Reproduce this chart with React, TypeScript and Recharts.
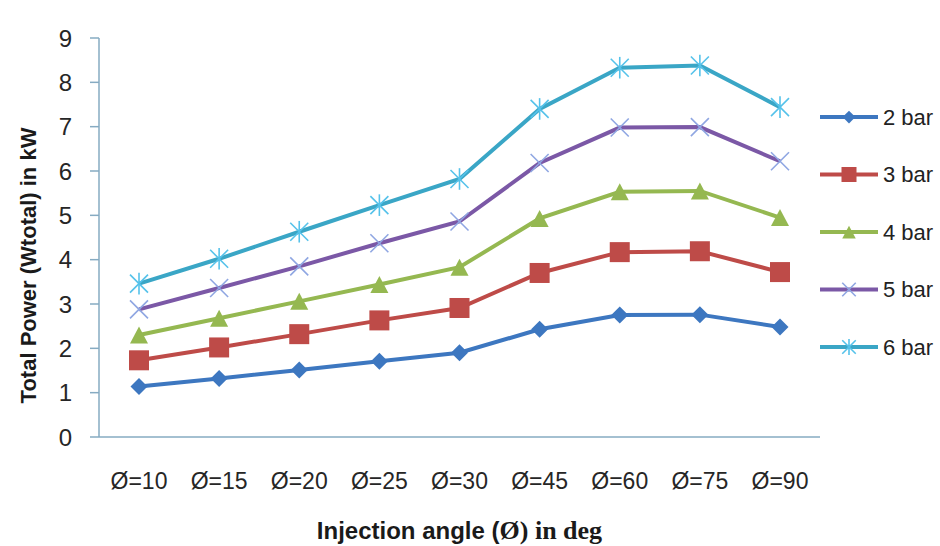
import React from "react"
import { CartesianGrid, Line, LineChart, XAxis, YAxis } from "recharts"

// Injection angle categories
const angles = ["Ø=10", "Ø=15", "Ø=20", "Ø=25", "Ø=30", "Ø=45", "Ø=60", "Ø=75", "Ø=90"]

// Total power in kW per injection pressure
const bar2 = [1.14, 1.32, 1.51, 1.71, 1.9, 2.43, 2.75, 2.76, 2.48]
const bar3 = [1.73, 2.02, 2.32, 2.63, 2.91, 3.7, 4.17, 4.19, 3.72]
const bar4 = [2.3, 2.68, 3.06, 3.44, 3.83, 4.93, 5.53, 5.55, 4.95]
const bar5 = [2.88, 3.36, 3.85, 4.37, 4.86, 6.18, 6.98, 6.99, 6.22]
const bar6 = [3.46, 4.02, 4.63, 5.23, 5.82, 7.4, 8.33, 8.38, 7.44]

const yTicks = [0, 1, 2, 3, 4, 5, 6, 7, 8, 9]

type MarkerKind = "diamond" | "square" | "triangle" | "cross" | "star"

const series: { key: string; name: string; values: number[]; color: string; marker: MarkerKind; markerColor: string }[] = [
  { key: "b2", name: "2 bar", values: bar2, color: "#3d77c0", marker: "diamond", markerColor: "#3d77c0" },
  { key: "b3", name: "3 bar", values: bar3, color: "#be4b48", marker: "square", markerColor: "#be4b48" },
  { key: "b4", name: "4 bar", values: bar4, color: "#95b851", marker: "triangle", markerColor: "#95b851" },
  { key: "b5", name: "5 bar", values: bar5, color: "#7b58a6", marker: "cross", markerColor: "#8fa6e2" },
  { key: "b6", name: "6 bar", values: bar6, color: "#3aa6c6", marker: "star", markerColor: "#55c2ea" },
]

const data = angles.map((angle, i) => {
  const row: Record<string, string | number> = { angle }
  series.forEach((s) => {
    row[s.key] = s.values[i]
  })
  return row
})

const SANS = "'Liberation Sans', Arial, sans-serif"
const SERIF = "'Liberation Serif', 'Times New Roman', serif"
const AXIS = "#86abc2"

function Marker({ kind, cx, cy, color, scale = 1 }: { kind: MarkerKind; cx: number; cy: number; color: string; scale?: number }) {
  if (kind === "diamond") {
    const r = 8.5 * scale
    return <polygon points={`${cx},${cy - r} ${cx + r},${cy} ${cx},${cy + r} ${cx - r},${cy}`} fill={color} />
  }
  if (kind === "square") {
    const h = 10 * scale
    return <rect x={cx - h} y={cy - h} width={h * 2} height={h * 2} fill={color} />
  }
  if (kind === "triangle") {
    const w = 9 * scale
    const h = 8.5 * scale
    return <polygon points={`${cx},${cy - h} ${cx + w},${cy + h} ${cx - w},${cy + h}`} fill={color} />
  }
  const r = 9 * scale
  return (
    <g stroke={color} strokeWidth={1.6}>
      <line x1={cx - r} y1={cy - r} x2={cx + r} y2={cy + r} />
      <line x1={cx - r} y1={cy + r} x2={cx + r} y2={cy - r} />
      {kind === "star" && <line x1={cx} y1={cy - r * 1.2} x2={cx} y2={cy + r * 1.2} />}
    </g>
  )
}

function makeDot(kind: MarkerKind, color: string) {
  return (props: any) => {
    const { cx, cy, index } = props
    if (cx == null || cy == null) return <g key={index} />
    return <Marker key={index} kind={kind} cx={cx} cy={cy} color={color} />
  }
}

function ChartLegend() {
  return (
    <svg width={130} height={290} style={{ position: "absolute", left: 812, top: 88 }}>
      {series.map((s, i) => {
        const y = 29 + i * 57.5
        return (
          <g key={s.key}>
            <line x1={8} x2={66} y1={y} y2={y} stroke={s.color} strokeWidth={4} />
            <Marker kind={s.marker} cx={37} cy={y} color={s.markerColor} scale={0.75} />
            <text x={71} y={y} dominantBaseline="central" fontFamily={SANS} fontSize={22} fill="#222">
              {s.name}
            </text>
          </g>
        )
      })}
    </svg>
  )
}

export default function App() {
  return (
    <div style={{ position: "absolute", left: 0, top: 0, width: 940, height: 546, background: "#fff" }}>
      <LineChart width={940} height={546} data={data} margin={{ top: 38, right: 120, bottom: 0, left: 0 }}>
        <CartesianGrid vertical={false} horizontal={false} />
        <XAxis
          dataKey="angle"
          height={109}
          padding={{ left: 40, right: 40 }}
          axisLine={{ stroke: AXIS, strokeWidth: 1.5 }}
          tickLine={false}
          tickSize={0}
          tickMargin={36}
          tick={{ fontFamily: SANS, fontSize: 23, fill: "#262626" }}
          interval={0}
          label={{
            content: (p: any) => {
              const vb = p.viewBox
              return (
                <text x={vb.x + vb.width / 2} y={539} textAnchor="middle" fill="#1a1a1a" fontWeight="bold">
                  <tspan fontFamily={SANS} fontSize={24}>Injection angle (</tspan>
                  <tspan fontFamily={SERIF} fontSize={26}>Ø) in deg</tspan>
                </text>
              )
            },
          }}
        />
        <YAxis
          width={99}
          domain={[0, 9]}
          ticks={yTicks}
          interval={0}
          axisLine={{ stroke: AXIS, strokeWidth: 1.5 }}
          tickLine={{ stroke: AXIS, strokeWidth: 1.5 }}
          tickSize={9}
          tickMargin={18}
          tick={{ fontFamily: SANS, fontSize: 24, fill: "#262626" }}
          label={{
            content: (p: any) => {
              const vb = p.viewBox
              const cy = vb.y + vb.height / 2 + 28
              return (
                <text
                  x={28}
                  y={cy}
                  transform={`rotate(-90, 28, ${cy})`}
                  textAnchor="middle"
                  dominantBaseline="central"
                  fontFamily={SANS}
                  fontSize={22}
                  fontWeight="bold"
                  fill="#1a1a1a"
                >
                  Total Power (Wtotal) in kW
                </text>
              )
            },
          }}
        />
        {series.map((s) => (
          <Line
            key={s.key}
            type="linear"
            dataKey={s.key}
            name={s.name}
            stroke={s.color}
            strokeWidth={4}
            dot={makeDot(s.marker, s.markerColor)}
            activeDot={false}
            isAnimationActive={false}
          />
        ))}
      </LineChart>
      <ChartLegend />
    </div>
  )
}
